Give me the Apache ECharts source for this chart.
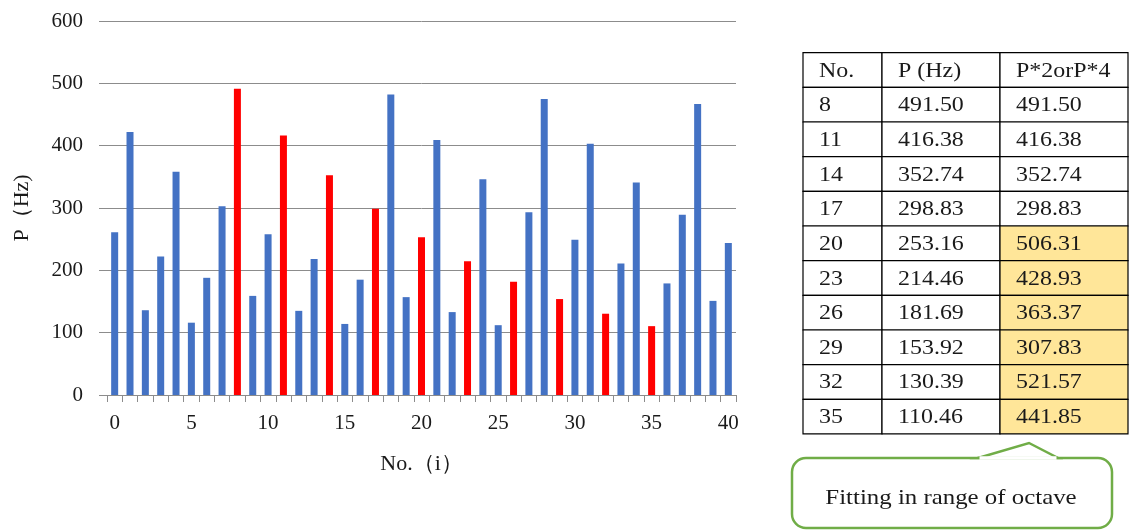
<!DOCTYPE html>
<html>
<head>
<meta charset="utf-8">
<script src="https://cdn.jsdelivr.net/npm/echarts@6/dist/echarts.min.js"></script>
<style>
  html, body { margin: 0; padding: 0; background: #fff; }
  #main { width: 1129px; height: 531px; }
</style>
</head>
<body>
<div id="main"></div>
<script>
var myChart = echarts.init(document.getElementById('main'));

// bar values, index = No. (i)
const nos = [];
for (let i = 0; i <= 40; i++) nos.push(String(i));
const pValues = [
  261, 422, 136, 222, 358, 116, 188, 303, 491.50, 159,
  258, 416.38, 135, 218, 352.74, 114, 185, 298.83, 482, 157,
  253.16, 409, 133, 214.46, 346, 112, 181.69, 293, 475, 153.92,
  249, 403, 130.39, 211, 341, 110.46, 179, 289, 467, 151,
  244
];
const redIdx = [8, 11, 14, 17, 20, 23, 26, 29, 32, 35];

// table at the right
const tableHead = ['No.', 'P (Hz)', 'P*2orP*4'];
const tableNo = ['8', '11', '14', '17', '20', '23', '26', '29', '32', '35'];
const tableP = ['491.50', '416.38', '352.74', '298.83', '253.16', '214.46', '181.69', '153.92', '130.39', '110.46'];
const tableFit = ['491.50', '416.38', '352.74', '298.83', '506.31', '428.93', '363.37', '307.83', '521.57', '441.85'];
const calloutText = 'Fitting in range of octave';

const serif = '"Liberation Serif", "Times New Roman", serif';

const barData = pValues.map(function (v, i) {
  return {
    value: v,
    itemStyle: { color: redIdx.indexOf(i) >= 0 ? '#ff0000' : '#4472c4' }
  };
});

// table graphic
const colX = [803, 882, 1000, 1128];
const tTop = 52.7, rowH = 34.66;
const graphics = [];
const rows = [tableHead];
for (let r = 0; r < tableNo.length; r++) rows.push([tableNo[r], tableP[r], tableFit[r]]);
rows.forEach(function (row, r) {
  row.forEach(function (txt, c) {
    const hl = r > 0 && c === 2 && tableFit[r - 1] !== tableP[r - 1];
    graphics.push({
      type: 'rect',
      shape: { x: colX[c], y: tTop + r * rowH, width: colX[c + 1] - colX[c], height: rowH },
      style: { fill: hl ? '#ffe699' : '#fff', stroke: '#000', lineWidth: 1.2 },
      z: 1
    });
    graphics.push({
      type: 'text',
      x: colX[c] + 16,
      y: tTop + r * rowH + rowH / 2 + 1,
      scaleX: 1.14,
      style: {
        text: txt, fill: '#1a1a1a', font: '21px ' + serif,
        textAlign: 'left', textVerticalAlign: 'middle'
      },
      z: 3
    });
  });
});

// callout box: rounded rect + pointer
const L = 792, R = 1112, T = 458, B = 528;
graphics.push({
  type: 'rect',
  shape: { x: L, y: T, width: R - L, height: B - T, r: 14 },
  style: { fill: '#fff', stroke: '#70ad47', lineWidth: 2.5 },
  z: 4
});
graphics.push({
  type: 'polygon',
  shape: { points: [[978, T], [1029, 443], [1058, T]] },
  style: { fill: '#fff', stroke: '#70ad47', lineWidth: 2.5 },
  z: 5
});
graphics.push({
  type: 'line',
  shape: { x1: 979.5, y1: T, x2: 1056.5, y2: T },
  style: { stroke: '#fff', lineWidth: 3.5 },
  z: 6
});
graphics.push({
  type: 'text',
  x: 951,
  y: 498,
  scaleX: 1.13,
  style: {
    text: calloutText, fill: '#1a1a1a', font: '22px ' + serif,
    textAlign: 'center', textVerticalAlign: 'middle'
  },
  z: 7
});

const option = {
  animation: false,
  backgroundColor: '#fff',
  grid: { left: 107, right: 393, top: 21, bottom: 136 },
  xAxis: {
    type: 'category',
    data: nos,
    name: 'No.（i）',
    nameLocation: 'middle',
    nameGap: 58,
    nameTextStyle: { fontFamily: serif, fontSize: 22, color: '#1a1a1a' },
    axisLine: { lineStyle: { color: '#8c8c8c', width: 1 } },
    axisTick: { show: true, interval: 0, length: 7, lineStyle: { color: '#8c8c8c' } },
    axisLabel: { interval: 4, margin: 18, fontFamily: serif, fontSize: 21, color: '#1a1a1a' }
  },
  yAxis: {
    type: 'value',
    min: 0,
    max: 600,
    interval: 100,
    name: 'P（Hz)',
    nameLocation: 'middle',
    nameGap: 74,
    nameTextStyle: { fontFamily: serif, fontSize: 22, color: '#1a1a1a' },
    axisLine: { show: false },
    axisTick: { show: true, length: 8, lineStyle: { color: '#8c8c8c' } },
    axisLabel: { margin: 24, fontFamily: serif, fontSize: 21, color: '#1a1a1a' },
    splitLine: { lineStyle: { color: '#8c8c8c', width: 1 } }
  },
  series: [
    {
      type: 'bar',
      data: barData,
      barWidth: 7
    }
  ],
  graphic: graphics
};

myChart.setOption(option);
</script>
</body>
</html>
